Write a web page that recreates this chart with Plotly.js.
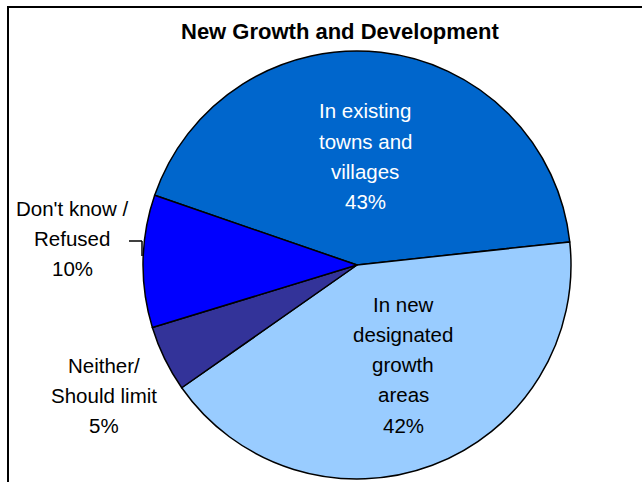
<!DOCTYPE html>
<html>
<head>
<meta charset="utf-8">
<script src="https://cdn.plot.ly/plotly-3.0.1.min.js"></script>
<style>
  html, body { margin: 0; padding: 0; background: #fff; }
  #chart { width: 642px; height: 482px; }
</style>
</head>
<body>
<div id="chart"></div>
<script>
// ---- data ----
const categories = [
  "In existing<br>towns and<br>villages",
  "In new<br>designated<br>growth<br>areas",
  "Neither/<br>Should limit",
  "Don't know /<br>Refused"
];
const values = [43, 42, 5, 10];
const sliceColors = ["#0066CC", "#99CCFF", "#333399", "#0000FF"];
const chartTitle = "New Growth and Development";

// ---- label placement (pixels, layout only) ----
const W = 642, H = 482;
const labelPlace = [
  {x: 365, y: 111, color: "#FFFFFF"},
  {x: 403, y: 304, color: "#000000"},
  {x: 104, y: 365, color: "#000000"},
  {x: 72,  y: 208, color: "#000000"}
];
const lineStep = 30.3;
const font = "Liberation Sans, Arial, sans-serif";

const px = x => x / W;
const py = y => 1 - y / H;

const annotations = [];
categories.forEach((cat, i) => {
  const lines = (cat + "<br>" + values[i] + "%").split("<br>");
  lines.forEach((ln, j) => {
    annotations.push({
      xref: "paper", yref: "paper",
      x: px(labelPlace[i].x), y: py(labelPlace[i].y + j * lineStep),
      xanchor: "center", yanchor: "middle",
      text: ln, showarrow: false,
      font: {family: font, size: 20.5, color: labelPlace[i].color}
    });
  });
});

// title
annotations.push({
  xref: "paper", yref: "paper", x: px(340), y: py(32),
  xanchor: "center", yanchor: "middle", showarrow: false,
  text: "<b>" + chartTitle + "</b>",
  font: {family: font, size: 22, color: "#000"}
});

const cx = 357, cy = 265, r = 214;

const data = [{
  type: "pie",
  values: values,
  labels: categories,
  sort: false,
  direction: "clockwise",
  rotation: -71,
  textinfo: "none",
  hoverinfo: "none",
  marker: {colors: sliceColors, line: {color: "#000000", width: 1.5}},
  domain: {x: [px(cx - r), px(cx + r)], y: [py(cy + r), py(cy - r)]},
  showlegend: false
}];

const layout = {
  width: W, height: H,
  margin: {l: 0, r: 0, t: 0, b: 0},
  paper_bgcolor: "#FFFFFF",
  showlegend: false,
  annotations: annotations,
  shapes: [
    {type: "rect", xref: "paper", yref: "paper",
     x0: px(8), x1: px(W + 10), y0: py(H + 10), y1: py(7),
     line: {color: "#000", width: 2}, fillcolor: "rgba(0,0,0,0)"},
    {type: "line", xref: "paper", yref: "paper",
     x0: px(129), x1: px(142), y0: py(241), y1: py(241),
     line: {color: "#000", width: 1.5}},
    {type: "line", xref: "paper", yref: "paper",
     x0: px(142), x1: px(142), y0: py(241), y1: py(256),
     line: {color: "#000", width: 1.5}}
  ]
};

Plotly.newPlot("chart", data, layout, {staticPlot: true, displayModeBar: false});
</script>
</body>
</html>
